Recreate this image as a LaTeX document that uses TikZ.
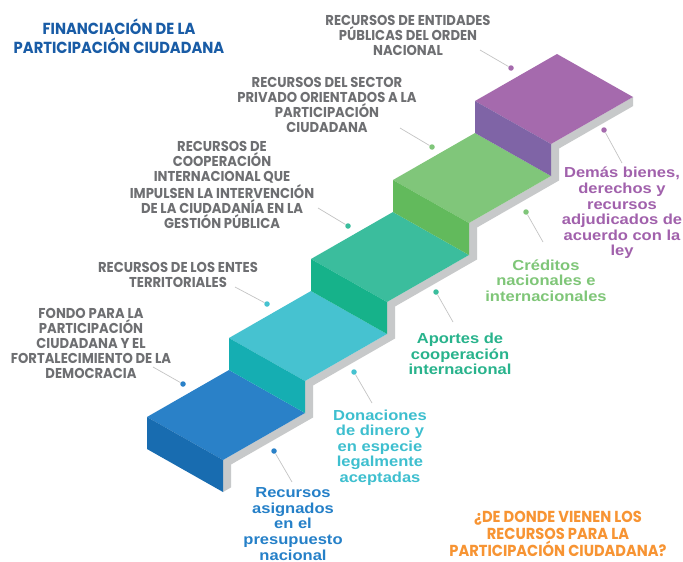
\documentclass[tikz,border=0pt]{standalone}
\usepackage{fontspec}
\setmainfont{Poppins}
\newfontfamily\capfont[FakeStretch=0.92]{Poppins}
\newfontfamily\armfont[FakeStretch=1.14]{Liberation Sans}
\usetikzlibrary{calc}
\definecolor{bTop}{HTML}{2A81C8}
\definecolor{bFront}{HTML}{186CB0}
\definecolor{cTop}{HTML}{46C2D0}
\definecolor{cFront}{HTML}{15AEB2}
\definecolor{tTop}{HTML}{3BBD9D}
\definecolor{tFront}{HTML}{16B28A}
\definecolor{gTop}{HTML}{80C67A}
\definecolor{gFront}{HTML}{62BA5C}
\definecolor{pTop}{HTML}{A56AAD}
\definecolor{pFront}{HTML}{7F64A6}
\definecolor{band}{HTML}{C7C9CA}
\definecolor{lblgray}{HTML}{6E6F72}
\definecolor{titleblue}{HTML}{195CA6}
\definecolor{qorange}{HTML}{F79433}
\definecolor{leadgray}{HTML}{C4C4C4}
\definecolor{bText}{HTML}{2580C8}
\definecolor{cText}{HTML}{3EBFCF}
\definecolor{tText}{HTML}{28B38C}
\definecolor{gText}{HTML}{7FC678}
\definecolor{pText}{HTML}{A161AC}
\tikzset{
  graylbl/.style={align=center, text=lblgray, inner sep=0pt,
    font=\capfont\bfseries\fontsize{14.3}{15}\selectfont},
  collbl/.style={align=center, inner sep=0pt,
    font=\armfont\bfseries\fontsize{14.5}{15.6}\selectfont},
  leader/.style={draw=leadgray, line width=0.7pt},
  dot/.style={circle, inner sep=0pt, minimum size=5.5pt},
}
\begin{document}
\begin{tikzpicture}[x=1pt,y=-1pt]
\useasboundingbox (0,0) rectangle (683,562);
\fill[white] (0,0) rectangle (683,562);

% step corners
\foreach \k in {0,...,4} {
  \coordinate (L\k) at (147+82*\k, 417-79*\k);
  \coordinate (T\k) at (223+82*\k, 460-79*\k);
  \coordinate (R\k) at (305+82*\k, 413-79*\k);
}
\coordinate (F) at (223,492);

% grey side band
\fill[band] (F) -- (T0) -- (R0) -- (T1) -- (R1) -- (T2) -- (R2) -- (T3) -- (R3) -- (T4) -- (R4)
  -- ($(R4)+(0,9.1)$) -- ($(T4)+(8,4.5)$) -- ($(R3)+(8,4.5)$) -- ($(T3)+(8,4.5)$)
  -- ($(R2)+(8,4.5)$) -- ($(T2)+(8,4.5)$) -- ($(R1)+(8,4.5)$) -- ($(T1)+(8,4.5)$)
  -- ($(R0)+(8,4.5)$) -- ($(T0)+(8,4.5)$) -- ($(F)+(8,-4.6)$) -- cycle;

% steps
\foreach \k/\tc/\fc in {0/bTop/bFront,1/cTop/cFront,2/tTop/tFront,3/gTop/gFront,4/pTop/pFront}{
  \fill[\tc] (L\k) -- ++(82,-47) -- (R\k) -- (T\k) -- cycle;
  \fill[\fc] (L\k) -- (T\k) -- ++(0,32) -- ($(L\k)+(0,32)$) -- cycle;
}

% title and question
\node[align=center, text=titleblue, inner sep=0pt,
  font=\capfont\bfseries\fontsize{16}{19}\selectfont] (title) at (119,36.5)
  {FINANCIACIÓN DE LA\\PARTICIPACIÓN CIUDADANA};
\node[align=center, text=qorange, inner sep=0pt,
  font=\capfont\bfseries\fontsize{15.9}{17}\selectfont] (quest) at (558,534)
  {¿DE DONDE VIENEN LOS\\RECURSOS PARA LA\\PARTICIPACIÓN CIUDADANA?};

% grey labels (left/top)
\node[graylbl] (g1) at (408,35) {RECURSOS DE ENTIDADES\\PÚBLICAS DEL ORDEN\\NACIONAL};
\node[graylbl] (g2) at (327,105) {RECURSOS DEL SECTOR\\PRIVADO ORIENTADOS A LA\\PARTICIPACIÓN\\CIUDADANA};
\node[graylbl] (g3) at (222,185) {RECURSOS DE\\COOPERACIÓN\\INTERNACIONAL QUE\\IMPULSEN LA INTERVENCIÓN\\DE LA CIUDADANÍA EN LA\\GESTIÓN PÚBLICA};
\node[graylbl] (g4) at (178,275) {RECURSOS DE LOS ENTES\\TERRITORIALES};
\node[graylbl] (g5) at (91,343.5) {FONDO PARA LA\\PARTICIPACIÓN\\CIUDADANA Y EL\\FORTALECIMIENTO DE LA\\DEMOCRACIA};

\node[dot, fill=pTop] (gd1) at (511,68) {};
\node[dot, fill=gTop] (gd2) at (432,147) {};
\node[dot, fill=tTop] (gd3) at (348,226) {};
\node[dot, fill=cTop] (gd4) at (267,304) {};
\node[dot, fill=bTop] (gd5) at (183,384) {};
\coordinate (ge1) at (480,50);
\coordinate (ge2) at (400,128);
\coordinate (ge3) at (318,208);
\coordinate (ge4) at (235,287);
\coordinate (ge5) at (153,367);
\foreach \i in {1,...,5} { \draw[leader] (ge\i) -- (gd\i); }

% coloured labels (right/bottom)
\node[collbl, text=bText] (c1) at (293,524) {Recursos\\asignados\\en el\\presupuesto\\nacional};
\node[collbl, text=cText] (c2) at (380,447.5) {Donaciones\\de dinero y\\en especie\\legalmente\\aceptadas};
\node[collbl, text=tText] (c3) at (460,354) {Aportes de\\cooperación\\internacional};
\node[collbl, text=gText] (c4) at (546,280.5) {Créditos\\nacionales e\\internacionales};
\node[collbl, text=pText] (c5) at (622,213) {Demás bienes,\\derechos y\\recursos\\adjudicados de\\acuerdo con la\\ley};

\node[dot, fill=bTop] (cd1) at (274,451) {};
\node[dot, fill=cTop] (cd2) at (354,372) {};
\node[dot, fill=tTop] (cd3) at (436,292) {};
\node[dot, fill=gTop] (cd4) at (526,212) {};
\node[dot, fill=pTop] (cd5) at (604,130) {};
\coordinate (ce1) at (292,482);
\coordinate (ce2) at (372,403);
\coordinate (ce3) at (453,322);
\coordinate (ce4) at (543,242);
\coordinate (ce5) at (622,163);
\foreach \i in {1,...,5} { \draw[leader] (cd\i) -- (ce\i); }
\end{tikzpicture}
\end{document}
